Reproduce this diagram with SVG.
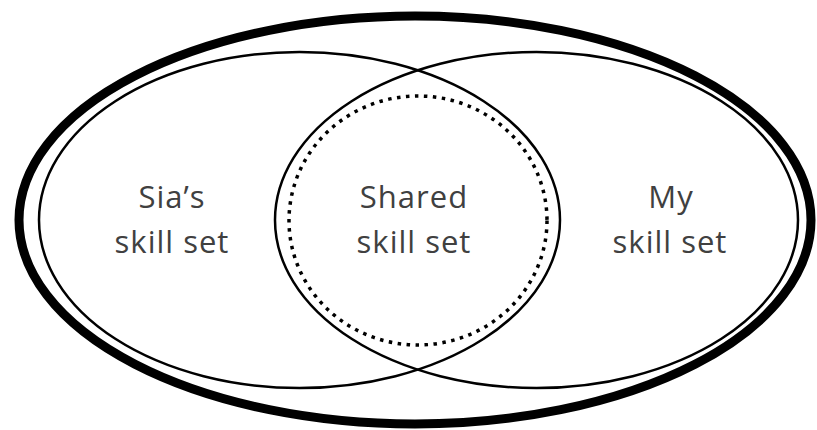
<svg xmlns="http://www.w3.org/2000/svg" width="817" height="430" viewBox="0 0 817 430">
  <style>
    .thin { fill: none; stroke: #000; stroke-width: 2.5; }
    .outer { fill: none; stroke: #000; stroke-width: 9; }
    .dots { fill: none; stroke: #000; stroke-width: 3.5; stroke-dasharray: 3.5 5.5; }
    .label { font-family: "Open Sans", "Liberation Sans", sans-serif; font-size: 31px; letter-spacing: 1px; fill: #404040; text-anchor: middle; }
  </style>
  <rect width="817" height="430" fill="#fff"/>

  <!-- overall boundary -->
  <g id="universe">
    <ellipse class="outer" cx="415" cy="220" rx="396" ry="204"/>
  </g>

  <!-- left set -->
  <g id="sia-skills">
    <ellipse class="thin" cx="299.5" cy="220" rx="260.5" ry="168"/>
    <text class="label" x="172" y="208">Sia’s</text>
    <text class="label" x="172" y="253">skill set</text>
  </g>

  <!-- right set -->
  <g id="my-skills">
    <ellipse class="thin" cx="536.5" cy="220" rx="261.5" ry="168"/>
    <text class="label" x="671" y="208">My</text>
    <text class="label" x="670" y="253">skill set</text>
  </g>

  <!-- overlap -->
  <g id="shared-skills">
    <ellipse class="dots" cx="418" cy="220.5" rx="129" ry="124.5"/>
    <text class="label" x="414" y="208">Shared</text>
    <text class="label" x="414" y="253">skill set</text>
  </g>
</svg>
